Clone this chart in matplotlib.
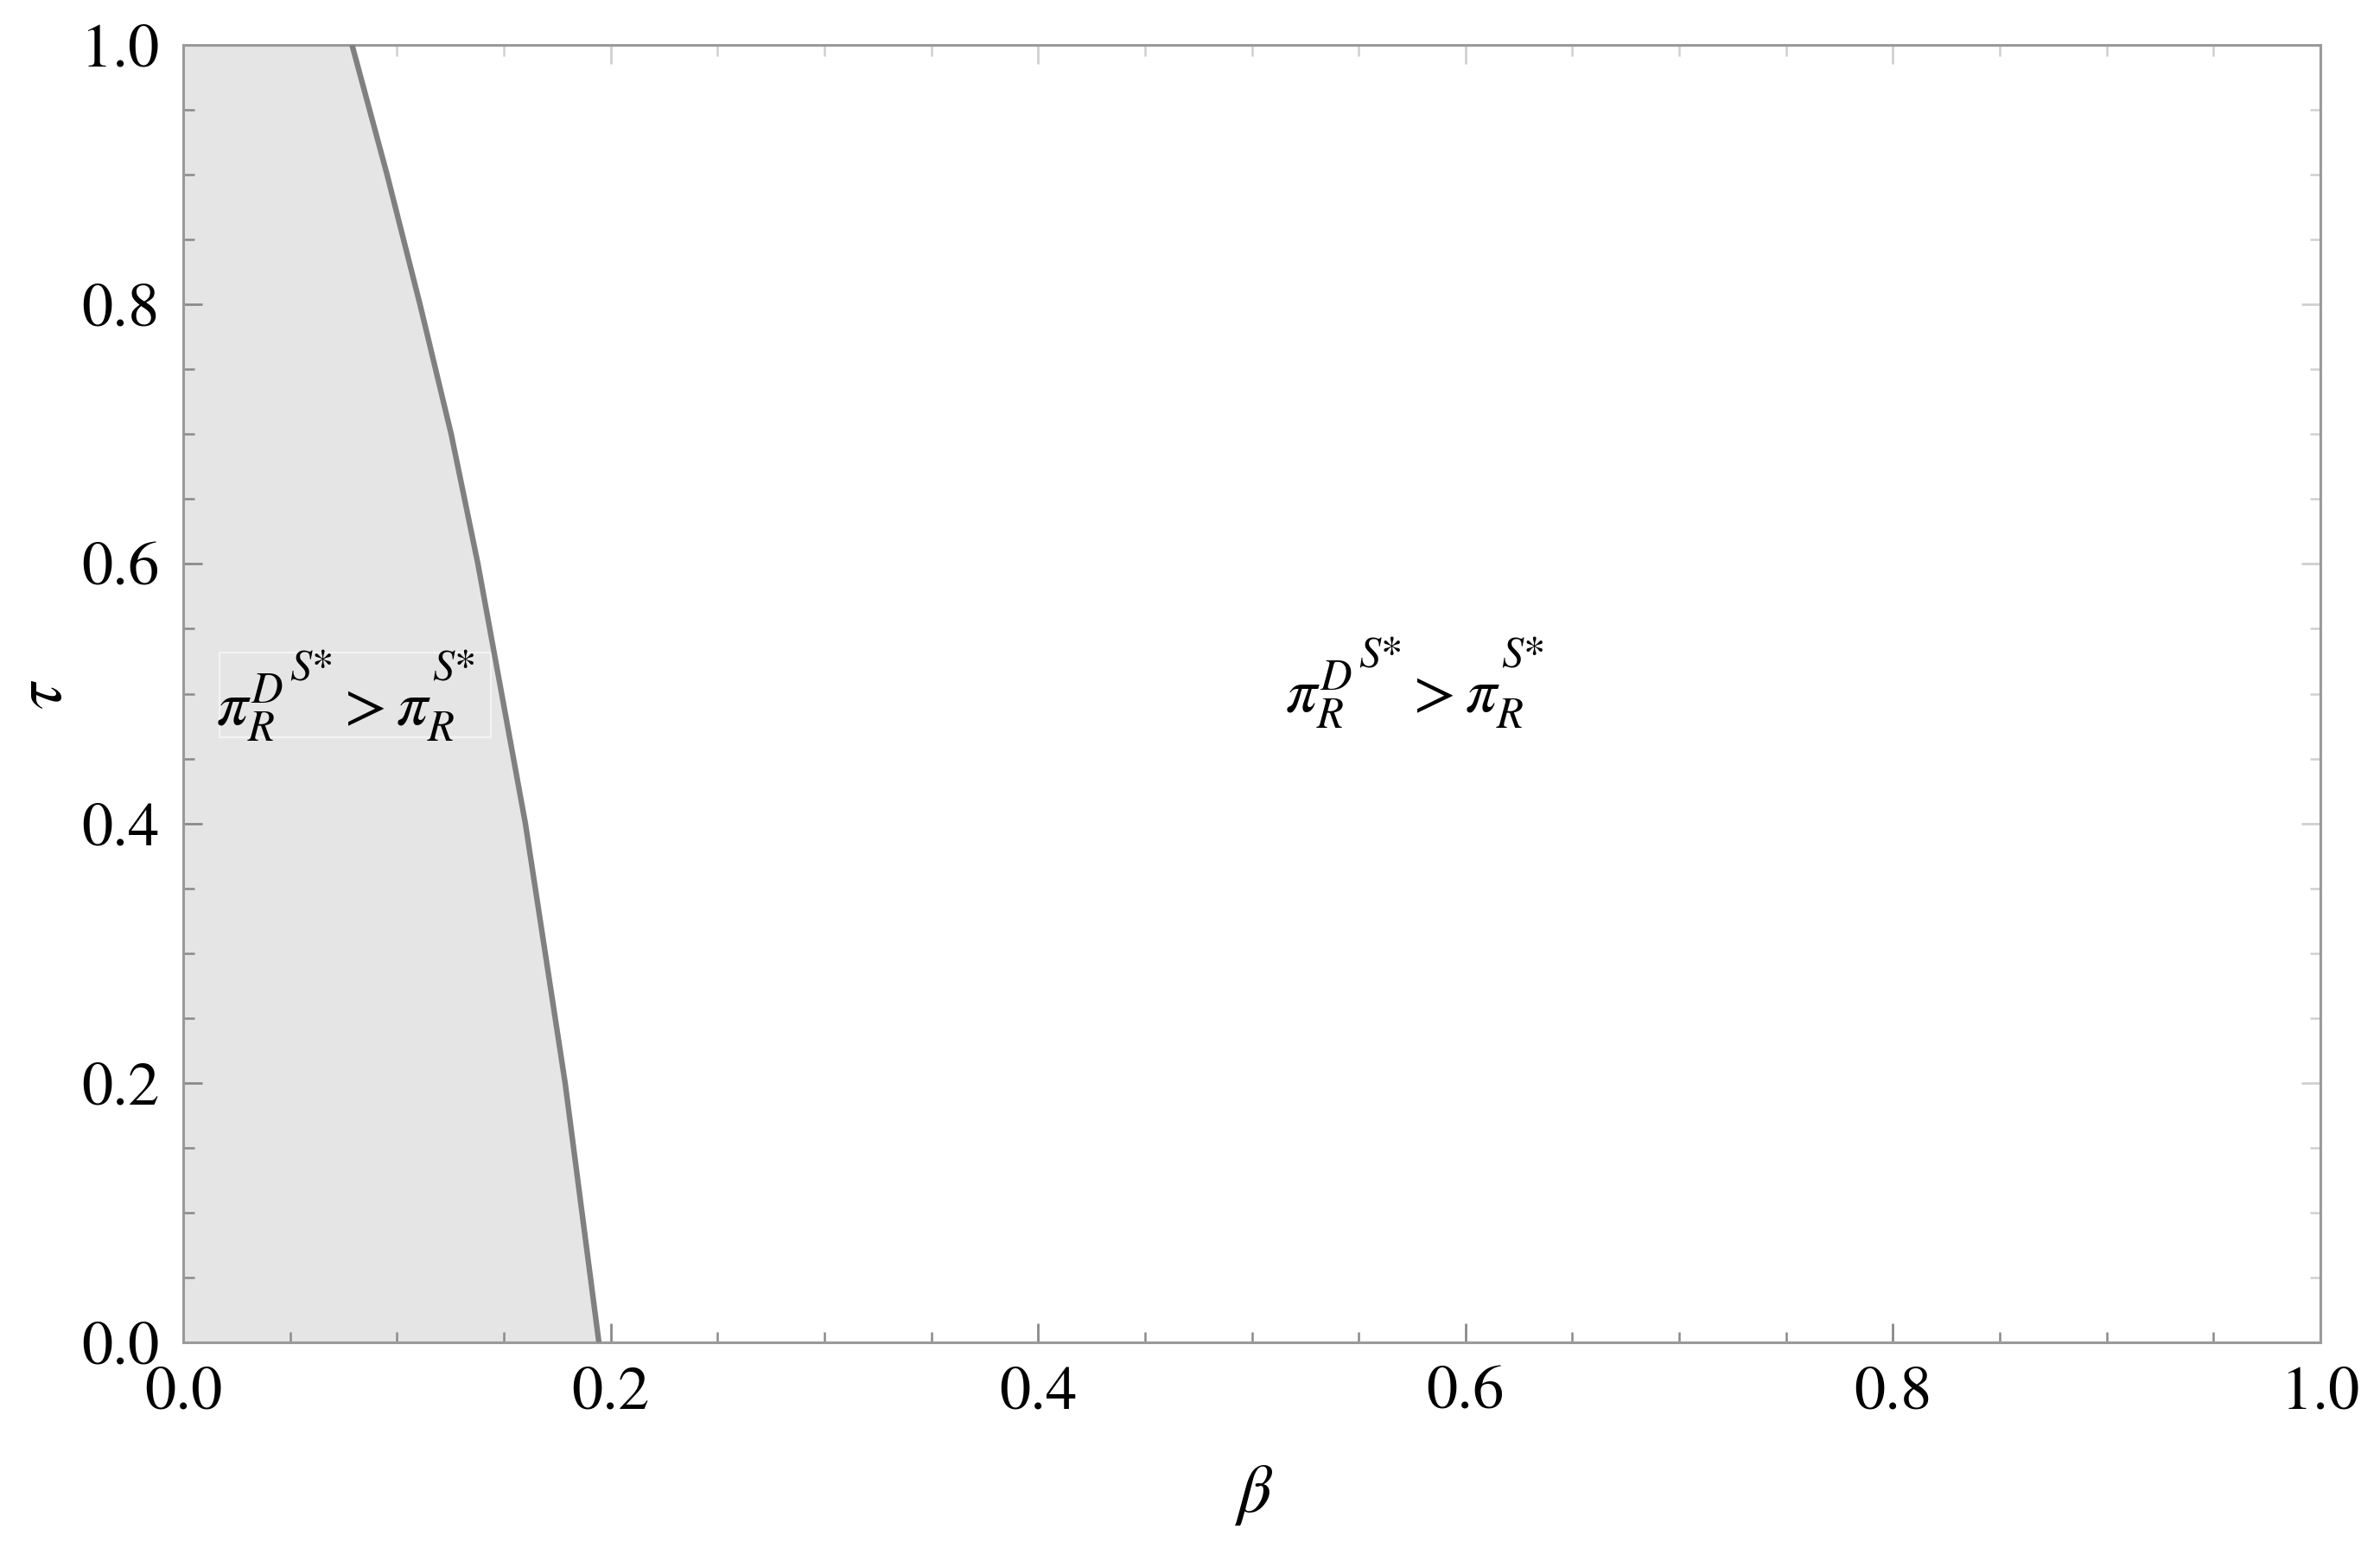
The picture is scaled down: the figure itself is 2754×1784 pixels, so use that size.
import matplotlib
matplotlib.use("Agg")
import matplotlib.pyplot as plt
from matplotlib.ticker import MultipleLocator
from matplotlib.patches import Rectangle
import matplotlib._mathtext as _mt

# nested superscripts keep the size of the first superscript level (as in the reference)
_mt.NUM_SIZE_LEVELS = 2

# Boundary curve: beta at given tau
tau_vals = [1.0, 0.9, 0.8, 0.7, 0.6, 0.4, 0.2, 0.0]
beta_vals = [0.079, 0.0954, 0.1108, 0.1254, 0.1379, 0.1601, 0.1787, 0.1945]

x_ticks = [0.0, 0.2, 0.4, 0.6, 0.8, 1.0]
y_ticks = [0.0, 0.2, 0.4, 0.6, 0.8, 1.0]

region_label = r'$\pi_R^{D^{S{*}}}\;{>}\pi_R^{{}^{S{*}}}$'

plt.rcParams['font.family'] = ['STIXGeneral', 'DejaVu Serif']
plt.rcParams['mathtext.fontset'] = 'stix'

W, H = 2754, 1784
DPI = 200
fig = plt.figure(figsize=(W / DPI, H / DPI), dpi=DPI)
ax = fig.add_axes([212 / W, 1 - 1553 / H, (2685 - 212) / W, (1553 - 52) / H])
ax.set_xlim(0, 1)
ax.set_ylim(0, 1)

fill_c = '#e5e5e5'
ax.fill_betweenx(tau_vals, 0, beta_vals, color=fill_c, lw=0, zorder=1)
ax.plot(beta_vals, tau_vals, color='#808080', lw=2.3, zorder=3, solid_capstyle='butt')

frame_c = '#9a9a9a'
for s in ax.spines.values():
    s.set_color(frame_c)
    s.set_linewidth(1.1)

ax.set_xticks(x_ticks)
ax.set_yticks(y_ticks)
ax.set_xticklabels([f"{v:.1f}" for v in x_ticks])
ax.set_yticklabels([f"{v:.1f}" for v in y_ticks])
ax.xaxis.set_minor_locator(MultipleLocator(0.05))
ax.yaxis.set_minor_locator(MultipleLocator(0.05))

ax.tick_params(which='both', direction='in', labelsize=26, labelcolor='black',
               bottom=True, left=True, top=False, right=False)
ax.tick_params(which='major', length=8, width=1.0, color='#8a8a8a')
ax.tick_params(which='minor', length=4.5, width=0.9, color='#8a8a8a')
ax.tick_params(axis='x', which='major', pad=10)
ax.tick_params(axis='y', which='major', pad=10)

# lighter ticks on top and right
ax2 = ax.secondary_xaxis('top')
ax2.set_xticks(x_ticks)
ax2.xaxis.set_minor_locator(MultipleLocator(0.05))
ax2.tick_params(which='both', direction='in', labeltop=False, color='#d0d0d0')
ax2.tick_params(which='major', length=8, width=1.0)
ax2.tick_params(which='minor', length=4.5, width=0.9)
ax2.spines['top'].set_visible(False)
ax3 = ax.secondary_yaxis('right')
ax3.set_yticks(y_ticks)
ax3.yaxis.set_minor_locator(MultipleLocator(0.05))
ax3.tick_params(which='both', direction='in', labelright=False, color='#d0d0d0')
ax3.tick_params(which='major', length=8, width=1.0)
ax3.tick_params(which='minor', length=4.5, width=0.9)
ax3.spines['right'].set_visible(False)


def px2data(px_x, px_y):
    return (px_x - 212) / 2473, (1553 - px_y) / 1501


# faint box behind left label
bx0, by0 = px2data(254, 853)
bx1, by1 = px2data(568, 755)
ax.add_patch(Rectangle((bx0, by0), bx1 - bx0, by1 - by0, facecolor=fill_c,
                       edgecolor='#f3f3f3', lw=0.8, zorder=2))

lx, ly = px2data(250, 840)
ax.text(lx, ly, region_label, fontsize=26, ha='left', va='baseline', zorder=5)
rx, ry = px2data(1487, 825)
ax.text(rx, ry, region_label, fontsize=26, ha='left', va='baseline', zorder=5)

fig.text(1451 / W, 1 - 1730 / H, r'$\beta$', fontsize=28, ha='center', va='center')
fig.text(53 / W, 1 - 803 / H, r'$\tau$', fontsize=28, ha='center', va='center', rotation=90)

fig.savefig('out.png', dpi=DPI, facecolor='white')
